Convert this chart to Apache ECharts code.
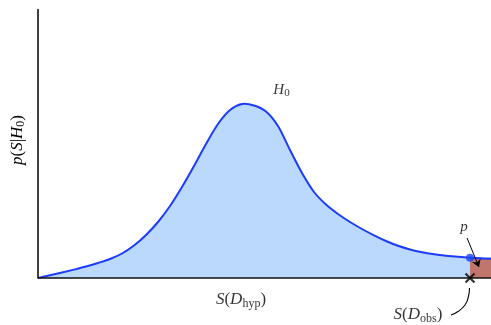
<!DOCTYPE html>
<html>
<head>
<meta charset="utf-8">
<script src="https://cdn.jsdelivr.net/npm/echarts@6/dist/echarts.min.js"></script>
<style>
  html, body { margin: 0; padding: 0; background: #fff; }
  #chart { width: 491px; height: 325px; }
</style>
</head>
<body>
<div id="chart"></div>
<script>
// Sampling density of the test statistic S under the null hypothesis H0 (step 0.12)
const sValues = [0, 0.12, 0.24, 0.36, 0.48, 0.60, 0.72, 0.84, 0.96, 1.08, 1.20, 1.32, 1.44, 1.56, 1.68, 1.80, 1.92, 2.04, 2.16, 2.28, 2.40, 2.52, 2.64, 2.76, 2.88, 3.00, 3.12, 3.24, 3.36, 3.48, 3.60, 3.72, 3.84, 3.96, 4.08, 4.20, 4.32, 4.44, 4.56];
const density = [0, 0.027, 0.055, 0.084, 0.115, 0.15, 0.19, 0.245, 0.325, 0.43, 0.56, 0.72, 0.91, 1.12, 1.34, 1.54, 1.68, 1.74, 1.725, 1.665, 1.52, 1.28, 1.05, 0.86, 0.735, 0.64, 0.56, 0.49, 0.427, 0.37, 0.322, 0.285, 0.257, 0.237, 0.223, 0.212, 0.203, 0.196, 0.19];

// Observed statistic S(D_obs) and the tail beyond it (the p-value)
const obsS = 4.32;
const obsDensity = 0.203;
const tailS = [4.32, 4.44, 4.56];
const tailDensity = [0.203, 0.196, 0.19];

// Arrow from the "p" label into the tail
const arrowS = [4.29, 4.41];
const arrowY = [0.40, 0.11];

// Leader curve from the S(D_obs) label up to the observed marker
const leaderS = [4.13, 4.20, 4.27, 4.303, 4.315];
const leaderY = [-0.37, -0.335, -0.27, -0.19, -0.10];

// Text annotations
const noteText = ['{i|H}{s|0}', '{i|p}', '{i|S}{r|(}{i|D}{s|hyp}{r|)}', '{i|S}{r|(}{i|D}{s|obs}{r|)}'];
const noteS = [2.435, 4.26, 2.03, 3.80];
const noteY = [1.88, 0.51, -0.22, -0.37];
const noteSize = [15, 15, 17, 17];
const yAxisTitle = '{i|p}{r|(}{i|S}{r||}{i|H}{s|0}{r|)}';

const serif = 'Liberation Serif';
const lineBlue = '#1c3cfa';
function mathRich(size) {
  return {
    i: { fontFamily: serif, fontStyle: 'italic', fontSize: size, color: '#000' },
    r: { fontFamily: serif, fontSize: size, color: '#000' },
    s: { fontFamily: serif, fontSize: Math.round(size * 0.7), color: '#000',
         padding: [Math.round(size * 0.4), 0, 0, 0] }
  };
}

const zip = (a, b) => a.map((v, k) => [v, b[k]]);

// Catmull-Rom spline through pixel points, written as cubic Bezier path data
function splinePath(pts) {
  let d = 'M' + pts[0][0] + ',' + pts[0][1];
  for (let k = 0; k < pts.length - 1; k++) {
    const p0 = pts[Math.max(k - 1, 0)], p1 = pts[k], p2 = pts[k + 1];
    const p3 = pts[Math.min(k + 2, pts.length - 1)];
    const c1 = [p1[0] + (p2[0] - p0[0]) / 6, p1[1] + (p2[1] - p0[1]) / 6];
    const c2 = [p2[0] - (p3[0] - p1[0]) / 6, p2[1] - (p3[1] - p1[1]) / 6];
    d += 'C' + c1[0] + ',' + c1[1] + ',' + c2[0] + ',' + c2[1] + ',' + p2[0] + ',' + p2[1];
  }
  return d;
}

const chart = echarts.init(document.getElementById('chart'), null, { renderer: 'canvas' });

chart.setOption({
  animation: false,
  backgroundColor: '#fff',
  grid: { left: 38, right: 0, top: 9, bottom: 0 },
  xAxis: {
    type: 'value', min: 0, max: 4.53, z: 6,
    axisLine: { show: true, onZero: true, lineStyle: { color: '#111', width: 1.6 } },
    axisTick: { show: false }, axisLabel: { show: false }, splitLine: { show: false }
  },
  yAxis: {
    type: 'value', min: -0.47, max: 2.69,
    axisLine: { show: false }, axisTick: { show: false },
    axisLabel: { show: false }, splitLine: { show: false }
  },
  graphic: [{
    type: 'text', x: 17.5, y: 140, rotation: Math.PI / 2,
    style: { text: yAxisTitle, rich: mathRich(17), align: 'center', verticalAlign: 'middle' }
  }],
  series: [
    {
      name: 'density', type: 'custom', coordinateSystem: 'cartesian2d', clip: true,
      data: zip(sValues, density),
      encode: { x: 0, y: 1 },
      renderItem: function (params, api) {
        if (params.dataIndex !== 0) return null;
        const pts = sValues.map((s, k) => api.coord([s, density[k]]));
        const curve = splinePath(pts);
        const b0 = api.coord([sValues[0], 0]);
        const b1 = api.coord([sValues[sValues.length - 1], 0]);
        return {
          type: 'group',
          children: [
            { type: 'path', shape: { pathData: curve + 'L' + b1[0] + ',' + b1[1] + 'L' + b0[0] + ',' + b0[1] + 'Z' },
              style: { fill: '#bad9fc', stroke: null } },
            { type: 'path', shape: { pathData: curve },
              style: { fill: null, stroke: lineBlue, lineWidth: 2 } }
          ]
        };
      },
      markLine: {
        silent: true, symbol: ['none', 'none'], label: { show: false },
        lineStyle: { color: '#111', width: 1.6, type: 'solid' },
        data: [[{ coord: [0, 0] }, { coord: [0, 2.69] }]]
      }
    },
    {
      name: 'tail', type: 'line', smooth: false, showSymbol: false,
      data: zip(tailS, tailDensity),
      lineStyle: { color: lineBlue, width: 2 },
      areaStyle: { color: '#c0766c', opacity: 1 }
    },
    {
      name: 'leader', type: 'line', smooth: 0.5, showSymbol: false,
      data: zip(leaderS, leaderY),
      lineStyle: { color: '#000', width: 1.1 }
    },
    {
      name: 'observed', type: 'scatter', z: 8,
      data: [[obsS, obsDensity]],
      symbol: 'circle', symbolSize: 8,
      itemStyle: { color: '#1c45f5' },
      markLine: {
        silent: true, symbol: ['none', 'arrow'], symbolSize: 7, label: { show: false },
        lineStyle: { color: '#000', width: 1, type: 'solid' },
        data: [[{ coord: [arrowS[0], arrowY[0]] }, { coord: [arrowS[1], arrowY[1]] }]]
      }
    },
    {
      name: 'observedMarker', type: 'scatter', z: 10,
      data: [[obsS, 0]],
      symbol: 'path://M0,0L10,10M10,0L0,10', symbolSize: 9,
      itemStyle: { color: 'rgba(0,0,0,0)', borderColor: '#000', borderWidth: 2.2 }
    },
    {
      name: 'notes', type: 'scatter', z: 9, symbolSize: 0,
      data: noteText.map((t, k) => ({
        value: [noteS[k], noteY[k]],
        label: { show: true, position: 'inside', align: 'center', verticalAlign: 'middle',
                 formatter: t, rich: mathRich(noteSize[k]) }
      }))
    }
  ]
});
</script>
</body>
</html>
